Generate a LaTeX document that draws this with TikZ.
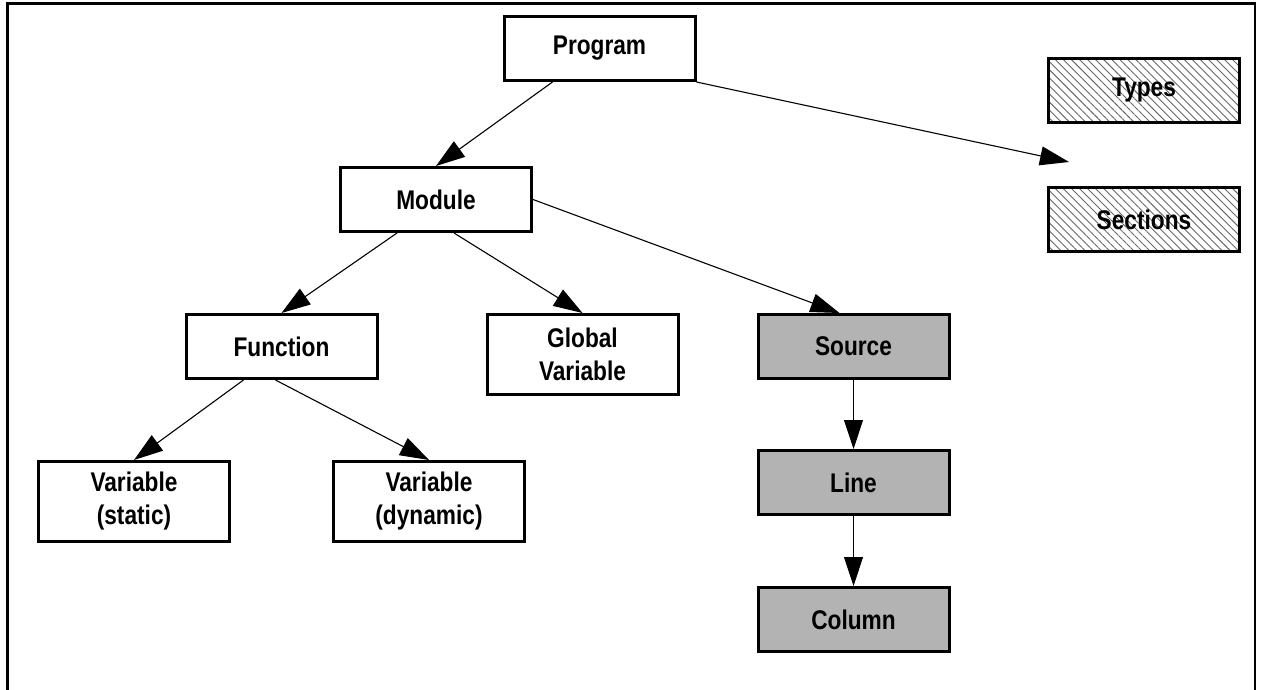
\documentclass[tikz,border=0pt]{standalone}
\usepackage{fontspec}
\setmainfont{Liberation Sans}[FakeStretch=0.84]
\usetikzlibrary{arrows.meta,patterns.meta}
\definecolor{boxgray}{HTML}{B3B3B3}
\begin{document}
\begin{tikzpicture}[x=1pt,y=-1pt,
  every node/.style={font=\fontsize{27}{33}\selectfont\bfseries, align=center, inner sep=0pt},
  box/.style={draw, line width=3pt, minimum width=191pt, minimum height=64pt},
  tallbox/.style={box, minimum height=80pt},
  graybox/.style={box, fill=boxgray},
  hatchbox/.style={box, pattern={Lines[angle=-45,distance=5.7pt,line width=0.9pt]}, pattern color=black!60},
  conn/.style={line width=1.1pt, -{Triangle[length=29pt,width=19pt]}}
]
\useasboundingbox (0,0) rectangle (1261,689);
\draw[line width=2.5pt] (7.5,700) -- (7.5,3.5) -- (1255,3.5) -- (1255,700);

\node[box] (prog) at (599.5,48.5) {Program};
\node[hatchbox] (types) at (1144,90.5) {Types};
\node[hatchbox] (sect) at (1144,219.5) {Sections};
\node[box] (mod) at (436,199.5) {Module};
\node[box] (fun) at (281.5,346.5) {Function};
\node[tallbox] (glob) at (582.5,354.5) {Global\\Variable};
\node[graybox] (src) at (853.5,346.5) {Source};
\node[graybox] (line) at (853.5,482.5) {Line};
\node[graybox] (col) at (853.5,619.5) {Column};
\node[tallbox] (vstat) at (134,501.5) {Variable\\(static)};
\node[tallbox] (vdyn) at (429,501.5) {Variable\\(dynamic)};
\coordinate (free) at (1069,162);

\draw[conn] ([xshift=-47pt]prog.south) -- (mod.north);
\draw[conn] (prog.south east) -- (free);
\draw[conn] ([xshift=-39pt]mod.south) -- (fun.north);
\draw[conn] ([xshift=18pt]mod.south) -- (glob.north);
\draw[conn] (mod.east) -- ([xshift=-14pt]src.north);
\draw[conn] ([xshift=-38pt]fun.south) -- (vstat.north);
\draw[conn] ([xshift=-6pt]fun.south) -- (vdyn.north);
\draw[conn] (src.south) -- (line.north);
\draw[conn] (line.south) -- (col.north);
\end{tikzpicture}
\end{document}
